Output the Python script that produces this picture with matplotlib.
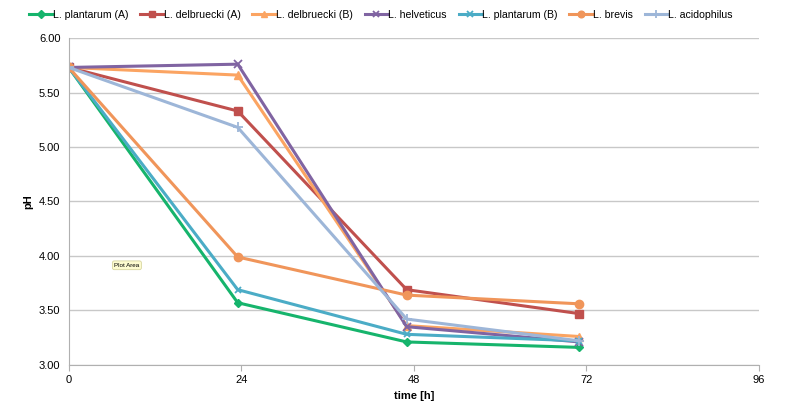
import numpy as np
import matplotlib.pyplot as plt

plt.rcParams['font.family'] = ['Liberation Sans', 'DejaVu Sans']

# sampling times [h] and pH values
time_h = [0, 23.5, 47, 71]
plantarum_a = [5.73, 3.57, 3.21, 3.16]
delbruecki_a = [5.73, 5.33, 3.69, 3.47]
delbruecki_b = [5.73, 5.66, 3.36, 3.26]
helveticus = [5.73, 5.76, 3.35, 3.21]
plantarum_b = [5.73, 3.69, 3.28, 3.22]
brevis = [5.73, 3.99, 3.64, 3.56]
acidophilus = [5.73, 5.18, 3.42, 3.22]

series = [
    ('L. plantarum (A)', plantarum_a, '#16b46c', 'D', 4.5),
    ('L. delbruecki (A)', delbruecki_a, '#c0504d', 's', 6),
    ('L. delbruecki (B)', delbruecki_b, '#fba462', '^', 6),
    ('L. helveticus', helveticus, '#8064a2', 'x', 6),
    ('L. plantarum (B)', plantarum_b, '#4bacc6', 'x', 5),
    ('L. brevis', brevis, '#f0955a', 'o', 6),
    ('L. acidophilus', acidophilus, '#9db6d8', '+', 7),
]

fig = plt.figure(figsize=(7.99, 4.09), dpi=100)
ax = fig.add_axes([0.086, 0.108, 0.864, 0.799])

for name, vals, col, mk, ms in series:
    ax.plot(time_h, vals, color=col, lw=2.2, marker=mk, ms=ms,
            markeredgewidth=1.3 if mk in 'x+' else 1, label=name)

ax.set_xlim(0, 96)
ax.set_ylim(3.0, 6.0)
ax.set_xticks([0, 24, 48, 72, 96])
ax.set_yticks(np.arange(3.0, 6.01, 0.5))
ax.set_yticklabels(['%.2f' % v for v in np.arange(3.0, 6.01, 0.5)])
ax.grid(axis='y', color='#c8c8c8', lw=1)
ax.set_axisbelow(True)
for s in ['top', 'right']:
    ax.spines[s].set_visible(False)
ax.spines['left'].set_color('#b0b0b0')
ax.spines['bottom'].set_color('#b0b0b0')
ax.tick_params(axis='both', labelsize=8, colors='#b0b0b0', labelcolor='black')
ax.tick_params(axis='y', length=0, pad=6)
ax.tick_params(axis='x', length=4, direction='out')
ax.set_xlabel('time [h]', fontsize=8, fontweight='bold')
ax.set_ylabel('pH', fontsize=8, fontweight='bold')

ax.text(0.066, 0.30, 'Plot Area', transform=ax.transAxes, fontsize=4.5,
        bbox=dict(boxstyle='round,pad=0.3', fc='#fdfbd0', ec='#d8d6a0', lw=0.6))

fig.legend(loc='upper center', bbox_to_anchor=(0.477, 1.0), ncol=7, frameon=False,
           fontsize=7.6, handlelength=2.2, handletextpad=0.05, columnspacing=1.1,
           markerscale=0.8)

fig.savefig('out.png', dpi=100)
